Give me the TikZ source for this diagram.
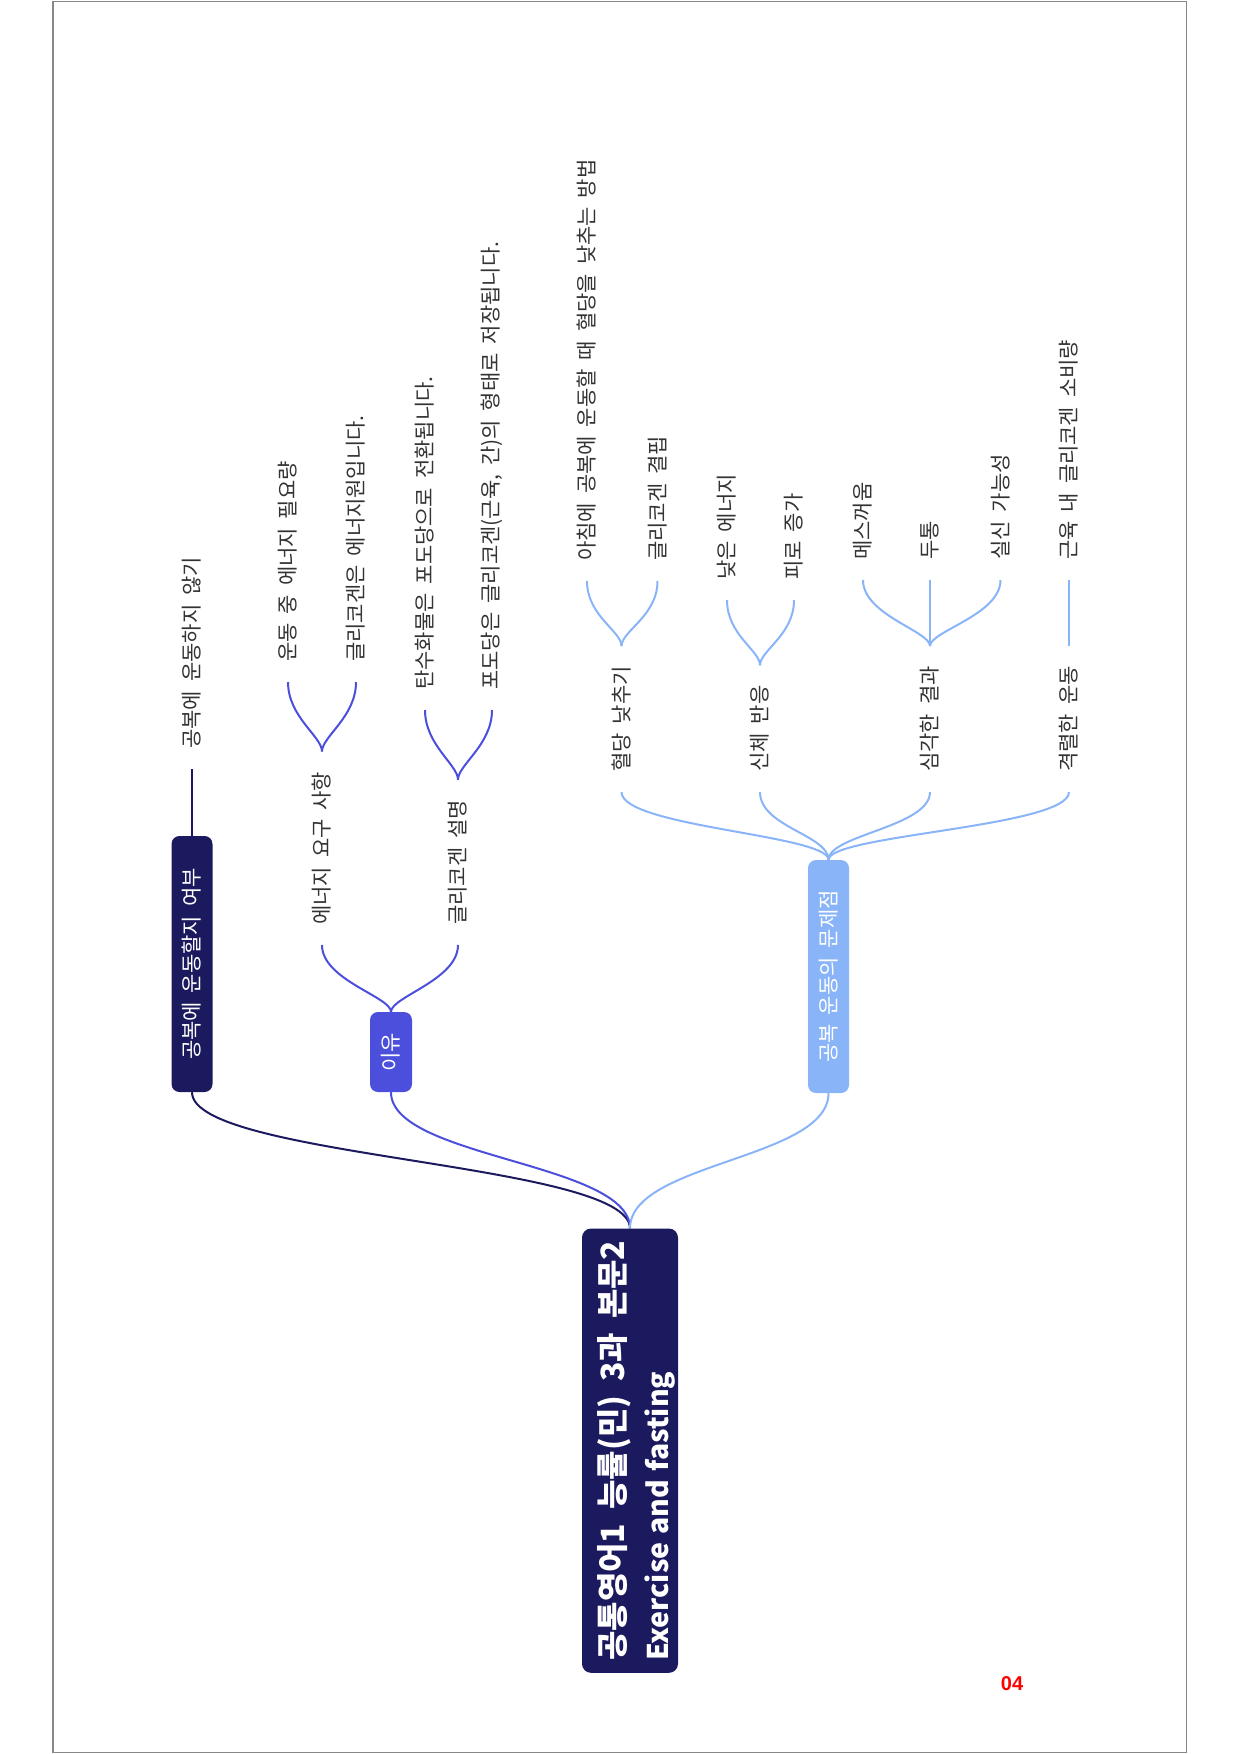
\documentclass[tikz,border=0pt]{standalone}
\usepackage{fontspec}
\setmainfont[WordSpace=1.9]{Noto Sans CJK KR}
\newfontfamily\arialbold{Liberation Sans Bold}
\definecolor{navy}{HTML}{1C1A5E}
\definecolor{midblue}{HTML}{4B4FDC}
\definecolor{lightblue}{HTML}{8AB4F8}
\definecolor{textgray}{HTML}{333333}
\definecolor{framegray}{HTML}{888888}
\begin{document}
\begin{tikzpicture}[x=1pt,y=-1pt,
  lvlone/.style={rotate=90, rounded corners=8pt, text=white, font=\fontsize{21}{25}\selectfont, inner sep=0pt, minimum height=41pt, anchor=center},
  leaf/.style={rotate=90, anchor=west, inner xsep=20pt, inner ysep=2pt, text=textgray, font=\fontsize{21}{24}\selectfont},
  conn/.style={line width=2pt}
]
\useasboundingbox (0,0) rectangle (1240,1754);
\draw[framegray, line width=1.5pt] (53,1.5) rectangle (1186.5,1752.5);

% root
\node[rotate=90, anchor=west, fill=navy, rounded corners=9pt, text=white, align=left,
      font=\fontsize{32}{44}\selectfont\bfseries,
      inner xsep=12pt, inner ysep=0pt, minimum height=96pt] (root) at (630,1673)
  {\rule{0pt}{40pt}공통영어1 능률(민) 3과 본문2\\ {\fontsize{28.5}{44}\selectfont\bfseries Exercise\hspace{0.28em}and\hspace{0.28em}fasting}};

% level one
\node[lvlone, fill=navy, minimum width=256pt] (n1) at (192,964) {공복에 운동할지 여부};
\node[lvlone, fill=midblue, minimum width=80pt, minimum height=42pt] (n2) at (391,1052) {이유};
\node[lvlone, fill=lightblue, minimum width=233pt] (n3) at (828.5,976.5) {공복 운동의 문제점};

\draw[conn, navy] (root.east) .. controls +(0,-66) and +(0,66) .. (n1.west);
\draw[conn, midblue] (root.east) .. controls +(0,-66) and +(0,66) .. (n2.west);
\draw[conn, lightblue] (root.east) .. controls +(0,-66) and +(0,66) .. (n3.west);

% branch 1
\node[leaf] (a1) at (192,769) {공복에 운동하지 않기};
\draw[conn, navy] (n1.east) -- (a1.west);

% branch 2
\node[leaf] (b1) at (322,945) {에너지 요구 사항};
\node[leaf] (b2) at (458,945) {글리코겐 설명};
\draw[conn, midblue] (n2.east) .. controls +(0,-15) and +(0,35) .. (b1.west);
\draw[conn, midblue] (n2.east) .. controls +(0,-15) and +(0,35) .. (b2.west);

\node[leaf] (b11) at (288,682) {운동 중 에너지 필요량};
\node[leaf] (b12) at (356,682) {글리코겐은 에너지원입니다.};
\draw[conn, midblue] (b1.east) .. controls +(0,-15) and +(0,35) .. (b11.west);
\draw[conn, midblue] (b1.east) .. controls +(0,-15) and +(0,35) .. (b12.west);

\node[leaf] (b21) at (425,710) {탄수화물은 포도당으로 전환됩니다.};
\node[leaf] (b22) at (492,710) {포도당은 글리코겐(근육, 간)의 형태로 저장됩니다.};
\draw[conn, midblue] (b2.east) .. controls +(0,-15) and +(0,35) .. (b21.west);
\draw[conn, midblue] (b2.east) .. controls +(0,-15) and +(0,35) .. (b22.west);

% branch 3
\node[leaf] (c1) at (621.5,792) {혈당 낮추기};
\node[leaf] (c2) at (760,792) {신체 반응};
\node[leaf] (c3) at (930,792) {심각한 결과};
\node[leaf] (c4) at (1069,792) {격렬한 운동};
\foreach \c in {c1,c2,c3,c4}{
  \draw[conn, lightblue] (n3.east) .. controls +(0,-25) and +(0,35) .. (\c.west);
}

\node[leaf] (c11) at (587,581) {아침에 공복에 운동할 때 혈당을 낮추는 방법};
\node[leaf] (c12) at (657.5,581) {글리코겐 결핍};
\draw[conn, lightblue] (c1.east) .. controls +(0,-15) and +(0,35) .. (c11.west);
\draw[conn, lightblue] (c1.east) .. controls +(0,-15) and +(0,35) .. (c12.west);

\node[leaf] (c21) at (727,600) {낮은 에너지};
\node[leaf] (c22) at (794,600) {피로 증가};
\draw[conn, lightblue] (c2.east) .. controls +(0,-15) and +(0,35) .. (c21.west);
\draw[conn, lightblue] (c2.east) .. controls +(0,-15) and +(0,35) .. (c22.west);

\node[leaf] (c31) at (863,580) {메스꺼움};
\node[leaf] (c32) at (930,580) {두통};
\node[leaf] (c33) at (1000.5,580) {실신 가능성};
\draw[conn, lightblue] (c3.east) .. controls +(0,-15) and +(0,35) .. (c31.west);
\draw[conn, lightblue] (c3.east) -- (c32.west);
\draw[conn, lightblue] (c3.east) .. controls +(0,-15) and +(0,35) .. (c33.west);

\node[leaf] (c41) at (1069,580) {근육 내 글리코겐 소비량};
\draw[conn, lightblue] (c4.east) -- (c41.west);

% page number
\node[font=\arialbold\fontsize{20}{24}\selectfont, text=red, inner sep=0pt] (pg) at (1012,1684) {04};
\end{tikzpicture}
\end{document}
